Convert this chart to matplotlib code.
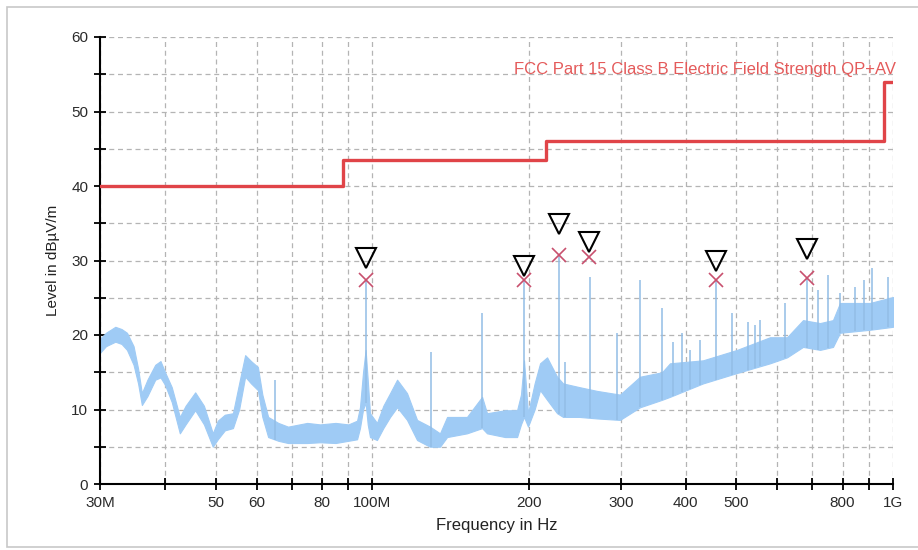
import matplotlib
matplotlib.use("Agg")
import matplotlib.pyplot as plt
import numpy as np
from matplotlib.patches import Rectangle
from matplotlib.ticker import FixedLocator, FixedFormatter, NullLocator

plt.rcParams['font.family'] = ['Liberation Sans', 'DejaVu Sans']

# ── spectrum envelope (MHz, dBµV/m) ──────────────────────────────────────────
env_freq = [30.0, 30.8, 32.1, 33.0, 33.8, 34.8, 35.5, 36.1, 37.0, 38.3, 39.2, 40.0,
            41.2, 42.7, 43.8, 45.7, 47.5, 49.4, 50.5, 52.1, 54.0, 55.5, 57.0, 58.5,
            60.3, 61.5, 63.1, 66.0, 68.9, 75.0, 79.4, 85.0, 90.0, 93.5, 94.7, 96.0,
            97.1, 98.0, 99.0, 102.1, 105.0, 108.2, 111.6, 116.6, 121.9, 129.1, 134.9,
            139.2, 152.0, 162.5, 166.1, 179.9, 189.7, 193.0, 195.6, 199.1, 205.0,
            210.0, 216.6, 226.4, 232.5, 250.0, 270.0, 299.0, 326.7, 360.1, 373.0,
            431.6, 501.7, 580.5, 625.9, 671.8, 724.2, 766.9, 791.0, 903.3, 1000.0]
env_low = [17.6, 18.5, 19.1, 18.8, 18.0, 16.0, 13.5, 10.6, 11.8, 14.0, 14.3, 13.3,
           11.0, 6.8, 8.0, 9.9, 8.0, 5.0, 6.0, 7.2, 7.5, 10.0, 14.4, 13.5,
           12.6, 9.0, 6.3, 5.8, 5.5, 5.5, 5.6, 5.5, 5.8, 6.0, 7.5, 10.0,
           10.9, 8.0, 6.3, 5.9, 7.5, 9.0, 10.3, 8.6, 5.9, 5.0, 5.0,
           6.3, 6.8, 7.5, 6.8, 6.3, 6.3, 8.0, 9.0, 7.7, 10.0,
           12.6, 11.3, 9.5, 9.0, 9.0, 8.8, 8.6, 10.3, 11.3, 11.7,
           13.5, 14.9, 16.2, 17.0, 18.4, 18.0, 18.4, 20.3, 20.7, 21.1]
env_high = [19.5, 20.3, 21.1, 20.8, 20.3, 18.5, 15.5, 12.2, 14.0, 16.0, 16.5, 15.0,
            13.0, 9.0, 10.5, 12.3, 10.5, 6.8, 8.5, 9.3, 9.5, 13.5, 17.3, 16.5,
            15.7, 12.0, 9.0, 8.2, 7.7, 8.2, 8.0, 8.2, 8.0, 8.5, 10.3, 15.0,
            18.0, 14.0, 9.5, 8.2, 10.5, 12.2, 14.0, 12.2, 8.6, 7.7, 6.8,
            9.0, 9.0, 11.7, 9.5, 9.9, 9.9, 12.0, 16.6, 9.5, 13.5,
            16.2, 17.0, 14.4, 13.5, 13.0, 12.5, 12.0, 14.4, 15.0, 16.2,
            16.6, 18.0, 19.7, 19.7, 22.0, 21.6, 22.0, 24.3, 24.3, 25.1]

# narrow spikes above the noise floor
spike_freq = [65.0, 97.1, 129.7, 162.5, 195.6, 228.4, 234.5, 261.9, 295.1, 326.7,
              360.1, 378.0, 393.4, 407.7, 426.0, 457.0, 490.7, 526.7, 543.2, 555.4,
              620.4, 684.0, 717.6, 750.2, 791.0, 845.3, 880.0, 911.4, 978.3]
spike_top = [14.0, 27.4, 17.7, 23.0, 27.4, 30.7, 16.4, 27.8, 20.3, 27.4,
             23.6, 19.1, 20.3, 18.0, 19.3, 27.4, 22.9, 21.7, 21.3, 22.0,
             24.3, 27.6, 26.0, 28.0, 25.6, 26.4, 27.4, 29.0, 27.8]

# final measurements
peak_freq = [97.1, 195.6, 228.4, 260.8, 457.0, 683.8]
peak_level = [27.4, 27.4, 30.7, 30.5, 27.4, 27.6]
prescan_level = [30.3, 29.3, 34.9, 32.5, 29.9, 31.5]

# limit line
limit_freq = [30, 88, 216, 960, 1000]
limit_level = [40, 43.5, 46, 54, 54]
limit_name = "FCC Part 15 Class B Electric Field Strength QP+AV"

xticks = [30, 40, 50, 60, 70, 80, 90, 100, 200, 300, 400, 500, 600, 700, 800, 900, 1000]
xtick_labels = ['30M', '', '50', '60', '', '80', '', '100M', '200', '300', '400', '500',
                '', '', '800', '', '1G']

MHZ = 1e6

fig = plt.figure(figsize=(9.18, 5.5), dpi=100)
fig.patches.append(Rectangle((7 / 918, 3 / 550), 912 / 918, 540 / 550, transform=fig.transFigure,
                             fill=False, edgecolor='#c8c8c8', linewidth=1.2))
ax = fig.add_axes([100 / 918, 66 / 550, 793 / 918, 447 / 550])

fx = [f * MHZ for f in env_freq]
ax.fill_between(fx, env_low, env_high, color='#9fcbf5', linewidth=0.8,
                edgecolor='#9fcbf5', zorder=2)
lo_at = np.interp(spike_freq, env_freq, env_low)
ax.vlines([f * MHZ for f in spike_freq], lo_at, spike_top, color='#92bde6',
          linewidth=1.1, zorder=2)

ax.plot([f * MHZ for f in limit_freq], limit_level, drawstyle='steps-post',
        color='#e04448', linewidth=2.4, zorder=3)
ax.text(1.012e9, 55.6, limit_name, ha='right', va='center', color='#e45a5a',
        fontsize=12, zorder=4, clip_on=False)

ax.plot([f * MHZ for f in peak_freq], peak_level, linestyle='none', marker='x',
        markersize=10, markeredgewidth=1.2, color='#c8506e', zorder=5)
ax.plot([f * MHZ for f in peak_freq], prescan_level, linestyle='none', marker='v',
        markersize=14, markeredgewidth=1.5, markerfacecolor='none',
        markeredgecolor='black', zorder=5)

ax.set_xscale('log')
ax.set_xlim(30 * MHZ, 1000 * MHZ)
ax.set_ylim(0, 60)
ax.xaxis.set_major_locator(FixedLocator([t * MHZ for t in xticks]))
ax.xaxis.set_major_formatter(FixedFormatter(xtick_labels))
ax.xaxis.set_minor_locator(NullLocator())
ax.set_yticks(range(0, 61, 5))
ax.set_yticklabels([str(v) if v % 10 == 0 else '' for v in range(0, 61, 5)])

ax.grid(True, color='#b4b4b4', linestyle=(0, (4, 3)), linewidth=0.9, zorder=0)
ax.set_axisbelow(True)
for side in ('top', 'right'):
    ax.spines[side].set_visible(False)
for side in ('left', 'bottom'):
    ax.spines[side].set_linewidth(1.5)
ax.tick_params(direction='inout', length=9, width=1.3, labelsize=11,
               labelcolor='#2a2a2a', pad=4)

ax.set_xlabel("Frequency in Hz", fontsize=12, color='#222222', labelpad=6)
ax.set_ylabel("Level in dBµV/m", fontsize=11, color='#222222', labelpad=8)

fig.savefig("out.png", dpi=100)
